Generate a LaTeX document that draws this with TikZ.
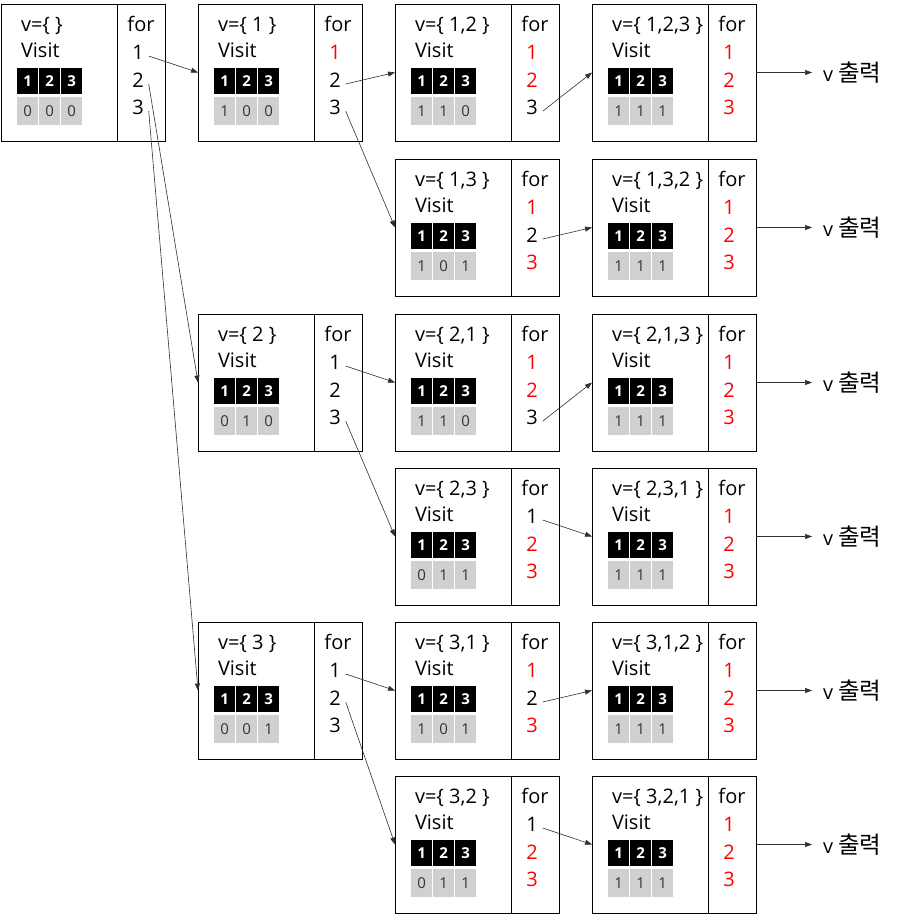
\documentclass[tikz,border=0pt]{standalone}
\usepackage{fontspec}
\setmainfont{Open Sans}
\newfontfamily\krfont{Noto Sans CJK KR}
\usetikzlibrary{arrows.meta}
\definecolor{cellgray}{HTML}{D0D0D0}
\definecolor{digitgray}{HTML}{333333}
\definecolor{linegray}{HTML}{303030}
\tikzset{
  pbox/.style={draw=black, line width=1pt, minimum width=164pt, minimum height=137pt, anchor=north west, inner sep=0pt, outer sep=0pt},
  txt/.style={font=\fontsize{20}{22}\selectfont, inner sep=0pt, outer sep=0pt},
  numtxt/.style={txt, anchor=base},
  blackcell/.style={fill=black, text=white, font=\fontsize{15}{16}\selectfont\bfseries, minimum width=21pt, minimum height=26pt, inner sep=0pt, anchor=north west},
  graycell/.style={fill=cellgray, text=digitgray, font=\fontsize{15}{16}\selectfont, minimum width=21pt, minimum height=28pt, inner sep=0pt, anchor=north west},
  link/.style={draw=linegray, line width=0.6pt, -{Triangle[length=7pt,width=5pt]}},
}
\newcommand{\pbox}[8]{%
  \node[pbox] (#1) at (#2,#3) {};
  \draw[line width=0.8pt] (#2+116,#3) -- (#2+116,#3+137);
  \node[txt, anchor=base west] (#1-v) at (#2+20,#3+27) {#4};
  \node[txt, anchor=base west] (#1-visit) at (#2+20,#3+53) {Visit};
  \node[numtxt] (#1-f) at (#2+140,#3+27) {for};
  \node[numtxt, text=#5] (#1-n1) at (#2+137,#3+55) {1};
  \node[numtxt, text=#6] (#1-n2) at (#2+137,#3+83) {2};
  \node[numtxt, text=#7] (#1-n3) at (#2+137,#3+110) {3};
  \foreach \v [count=\i] in {#8} {
    \node[blackcell] (#1-h\i) at (#2+16+22*\i-22, #3+64) {\i};
    \node[graycell] (#1-c\i) at (#2+16+22*\i-22, #3+93) {\v};
  }
}
\newcommand{\outp}[1]{%
  \node[txt, anchor=west] (#1-out) at ([xshift=67pt]#1.east) {v {\krfont\fontsize{23.5}{25}\selectfont 출력}};
  \draw[link] (#1.east) -- ([xshift=-11pt]#1-out.west);
}
\newcommand{\lnk}[2]{%
  \draw[link] ([shift={(5,-3)}]#1.south east) -- (#2.west);
}
\begin{document}
\begin{tikzpicture}[x=1pt, y=-1pt]
\useasboundingbox (0,0) rectangle (900,914);
% row A
\pbox{A1}{1}{4}{v=\{ \}}{black}{black}{black}{0,0,0}
\pbox{A2}{198}{4}{v=\{ 1 \}}{red}{black}{black}{1,0,0}
\pbox{A3}{395}{4}{v=\{ 1,2 \}}{red}{red}{black}{1,1,0}
\pbox{A4}{592}{4}{v=\{ 1,2,3 \}}{red}{red}{red}{1,1,1}
% row B
\pbox{B3}{395}{159}{v=\{ 1,3 \}}{red}{black}{red}{1,0,1}
\pbox{B4}{592}{159}{v=\{ 1,3,2 \}}{red}{red}{red}{1,1,1}
% row C
\pbox{C2}{198}{314}{v=\{ 2 \}}{black}{black}{black}{0,1,0}
\pbox{C3}{395}{314}{v=\{ 2,1 \}}{red}{red}{black}{1,1,0}
\pbox{C4}{592}{314}{v=\{ 2,1,3 \}}{red}{red}{red}{1,1,1}
% row D
\pbox{D3}{395}{468}{v=\{ 2,3 \}}{black}{red}{red}{0,1,1}
\pbox{D4}{592}{468}{v=\{ 2,3,1 \}}{red}{red}{red}{1,1,1}
% row E
\pbox{E2}{198}{622}{v=\{ 3 \}}{black}{black}{black}{0,0,1}
\pbox{E3}{395}{622}{v=\{ 3,1 \}}{red}{black}{red}{1,0,1}
\pbox{E4}{592}{622}{v=\{ 3,1,2 \}}{red}{red}{red}{1,1,1}
% row F
\pbox{F3}{395}{776}{v=\{ 3,2 \}}{black}{red}{red}{0,1,1}
\pbox{F4}{592}{776}{v=\{ 3,2,1 \}}{red}{red}{red}{1,1,1}
% links
\lnk{A1-n1}{A2}
\lnk{A1-n2}{C2}
\lnk{A1-n3}{E2}
\lnk{A2-n2}{A3}
\lnk{A2-n3}{B3}
\lnk{A3-n3}{A4}
\lnk{B3-n2}{B4}
\lnk{C2-n1}{C3}
\lnk{C2-n3}{D3}
\lnk{C3-n3}{C4}
\lnk{D3-n1}{D4}
\lnk{E2-n1}{E3}
\lnk{E2-n2}{F3}
\lnk{E3-n2}{E4}
\lnk{F3-n1}{F4}
% outputs
\outp{A4}
\outp{B4}
\outp{C4}
\outp{D4}
\outp{E4}
\outp{F4}
\end{tikzpicture}
\end{document}
